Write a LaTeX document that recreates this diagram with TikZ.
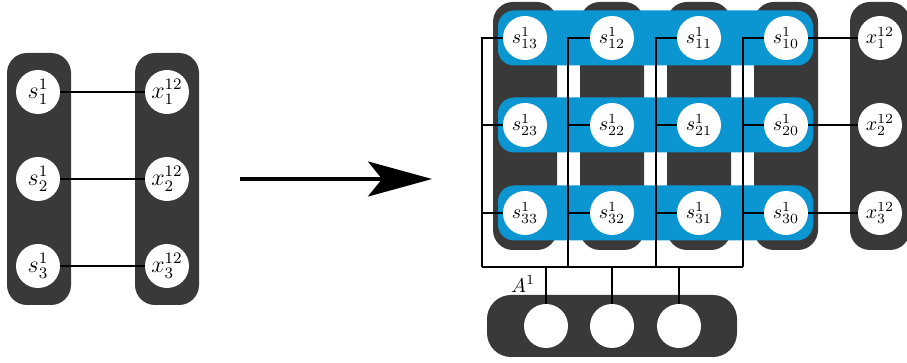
\documentclass[tikz,border=0pt]{standalone}
\usetikzlibrary{arrows.meta}
\usepackage{xcolor}
\definecolor{slabc}{RGB}{57,57,57}
\definecolor{bandc}{RGB}{11,150,210}

\begin{document}
\begin{tikzpicture}[x=0.5pt, y=-0.5pt,
  slab/.style={fill=slabc, rounded corners=10pt, minimum width=32pt, inner sep=0pt},
  band/.style={fill=bandc, rounded corners=8pt, minimum width=157.5pt,
               minimum height=27.5pt, inner sep=0pt},
  unit/.style={circle, fill=white, minimum size=22pt, inner sep=0pt},
  lunit/.style={unit, font=\large},
  wire/.style={draw=black, line width=0.8pt},
  bigarrow/.style={-{Stealth[length=32pt, width=17.5pt, inset=7pt]}, line width=1.7pt},
]
\useasboundingbox (0,0) rectangle (907,363);

% left: single layer
\node[slab, minimum height=126pt] (lslab1) at (39,179) {};
\node[slab, minimum height=126pt] (lslab2) at (167,179) {};
\node[lunit] (ls1) at (38,92) {$s^1_1$};
\node[lunit] (ls2) at (38,179) {$s^1_2$};
\node[lunit] (ls3) at (38,266) {$s^1_3$};
\node[lunit] (lx1) at (167,92) {$x^{12}_1$};
\node[lunit] (lx2) at (167,179) {$x^{12}_2$};
\node[lunit] (lx3) at (167,266) {$x^{12}_3$};
\draw[wire] (ls1) -- (lx1);
\draw[wire] (ls2) -- (lx2);
\draw[wire] (ls3) -- (lx3);

% arrow
\coordinate (arrtail) at (240,179);
\coordinate (arrtip) at (432,179);
\draw[bigarrow] (arrtail) -- (arrtip);

% right: columns behind the rows
\node[slab, minimum height=124pt] (col1) at (525,126) {};
\node[slab, minimum height=124pt] (col2) at (612,126) {};
\node[slab, minimum height=124pt] (col3) at (699,126) {};
\node[slab, minimum height=124pt] (col4) at (786,126) {};
\node[slab, minimum height=124pt, minimum width=30pt] (xcol) at (880,126) {};

% rows
\node[band] (row1) at (655.5,38) {};
\node[band] (row2) at (655.5,125) {};
\node[band] (row3) at (655.5,213) {};

% units
\node[unit] (s13) at (525,38) {$s^1_{13}$};
\node[unit] (s12) at (612,38) {$s^1_{12}$};
\node[unit] (s11) at (699,38) {$s^1_{11}$};
\node[unit] (s10) at (786,38) {$s^1_{10}$};
\node[unit] (s23) at (525,125) {$s^1_{23}$};
\node[unit] (s22) at (612,125) {$s^1_{22}$};
\node[unit] (s21) at (699,125) {$s^1_{21}$};
\node[unit] (s20) at (786,125) {$s^1_{20}$};
\node[unit] (s33) at (525,213) {$s^1_{33}$};
\node[unit] (s32) at (612,213) {$s^1_{32}$};
\node[unit] (s31) at (699,213) {$s^1_{31}$};
\node[unit] (s30) at (786,213) {$s^1_{30}$};
\node[unit] (x1) at (880,38) {$x^{12}_1$};
\node[unit] (x2) at (880,125) {$x^{12}_2$};
\node[unit] (x3) at (880,213) {$x^{12}_3$};
\draw[wire] (s10) -- (x1);
\draw[wire] (s20) -- (x2);
\draw[wire] (s30) -- (x3);

% A^1 block
\node[slab, minimum width=125pt, minimum height=31pt, rounded corners=12pt] (abox) at (612,326) {};
\node[unit] (a1) at (546,326) {};
\node[unit] (a2) at (612,326) {};
\node[unit] (a3) at (679,326) {};
\node (alabel) at (523,284) {$A^1$};

% buses
\coordinate (bus1) at (482,267);
\coordinate (bus2) at (568,267);
\coordinate (bus3) at (656,267);
\coordinate (bus4) at (743,267);
\draw[wire] (s13.west) -| (bus1);
\draw[wire] (s23.west) -- (s23.west -| bus1);
\draw[wire] (s33.west) -- (s33.west -| bus1);
\draw[wire] (s12.west) -| (bus2);
\draw[wire] (s22.west) -- (s22.west -| bus2);
\draw[wire] (s32.west) -- (s32.west -| bus2);
\draw[wire] (s11.west) -| (bus3);
\draw[wire] (s21.west) -- (s21.west -| bus3);
\draw[wire] (s31.west) -- (s31.west -| bus3);
\draw[wire] (s10.west) -| (bus4);
\draw[wire] (s20.west) -- (s20.west -| bus4);
\draw[wire] (s30.west) -- (s30.west -| bus4);
\draw[wire] (bus1) -- (bus4);
\draw[wire] (a1.north) -- (a1.north |- bus1);
\draw[wire] (a2.north) -- (a2.north |- bus1);
\draw[wire] (a3.north) -- (a3.north |- bus1);

\end{tikzpicture}
\end{document}
